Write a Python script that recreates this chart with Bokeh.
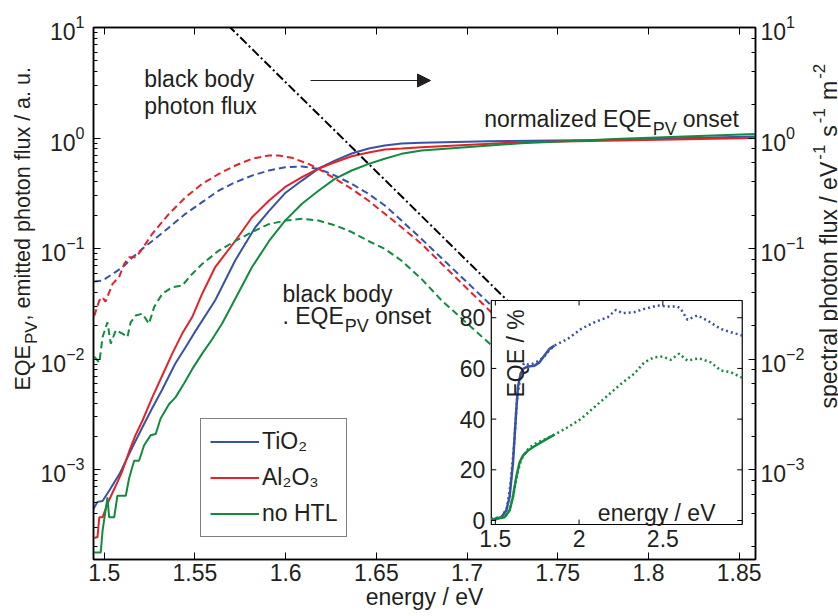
import math
from bokeh.plotting import figure
from bokeh.layouts import row
from bokeh.models import (Range1d, LinearAxis, LogAxis, FixedTicker, Label, Arrow,
                          NormalHead, LinearScale, Legend, LegendItem)
from bokeh.embed import file_html
from bokeh.resources import INLINE
from bokeh.core.properties import value

# ---------------- data ----------------
# normalized EQE_PV onset (solid)
TIO2_E = [1.4941, 1.4963, 1.4991, 1.5029, 1.5084, 1.5156, 1.5210, 1.5265, 1.5320, 1.5392,
          1.5446, 1.5502, 1.5612, 1.5722, 1.5832, 1.5909, 1.5996, 1.6090, 1.6183, 1.6271,
          1.6364, 1.6458, 1.6546, 1.6639, 1.6749, 1.7117, 1.7738, 1.8590]
TIO2_EQE = [4.4e-4, 5.1e-4, 5.2e-4, 6.5e-4, 9.1e-4, 1.6e-3, 2.4e-3, 3.6e-3, 5.3e-3, 9.1e-3,
            1.26e-2, 1.78e-2, 3.4e-2, 7.8e-2, 0.155, 0.219, 0.316, 0.412, 0.530, 0.625,
            0.724, 0.804, 0.855, 0.891, 0.905, 0.935, 0.96, 1.03]

AL2O3_E = [1.4945, 1.4963, 1.4973, 1.4991, 1.5018, 1.5046, 1.5073, 1.5101, 1.5137, 1.5172,
           1.5210, 1.5265, 1.5320, 1.5375, 1.5430, 1.5485, 1.5540, 1.5612, 1.5722, 1.5815,
           1.5909, 1.5996, 1.6090, 1.6183, 1.6271, 1.6364, 1.6458, 1.6546, 1.6639, 1.6749,
           1.7298, 1.8590]
AL2O3_EQE = [2.4e-4, 2.45e-4, 3.7e-4, 3.7e-4, 4.9e-4, 6.2e-4, 7.7e-4, 9.8e-4, 1.45e-3, 2.04e-3,
             2.75e-3, 4.5e-3, 7.1e-3, 1.12e-2, 1.7e-2, 2.4e-2, 3.9e-2, 6.8e-2, 0.117, 0.192,
             0.272, 0.359, 0.442, 0.530, 0.603, 0.684, 0.741, 0.787, 0.804, 0.826,
             0.916, 1.0]

NOHTL_E = [1.4945, 1.4981, 1.4991, 1.5018, 1.5027, 1.5055, 1.5073, 1.5119, 1.5137, 1.5165,
           1.5192, 1.5220, 1.5256, 1.5284, 1.5311, 1.5357, 1.5393, 1.5440, 1.5485, 1.5540,
           1.5595, 1.5650, 1.5705, 1.5815, 1.5909, 1.5996, 1.6090, 1.6183, 1.6271, 1.6364,
           1.6458, 1.6546, 1.6639, 1.6749, 1.7298, 1.7848, 1.8590]
NOHTL_EQE = [1.78e-4, 1.78e-4, 2.8e-4, 5.6e-4, 3.7e-4, 3.7e-4, 5.8e-4, 5.8e-4, 8.3e-4, 1.2e-3,
             1.2e-3, 1.66e-3, 2.04e-3, 2.1e-3, 2.9e-3, 3.9e-3, 4.5e-3, 6.0e-3, 8.1e-3, 1.12e-2,
             1.51e-2, 2.1e-2, 3.1e-2, 6.8e-2, 0.117, 0.178, 0.254, 0.335, 0.427, 0.508,
             0.583, 0.649, 0.719, 0.771, 0.897, 0.984, 1.09]

# black body x EQE_PV onset (dashed)
TIO2_EM_E = [1.4945, 1.4991, 1.5046, 1.5101, 1.5156, 1.5210, 1.5265, 1.5357, 1.5448, 1.5540,
             1.5632, 1.5723, 1.5815, 1.5907, 1.5998, 1.6090, 1.6181, 1.6273, 1.6364, 1.6456,
             1.6547, 1.6639, 1.6749, 1.7115, 1.7300]
TIO2_EM = [0.0502, 0.0513, 0.0589, 0.0676, 0.0832, 0.0993, 0.117, 0.155, 0.206, 0.263,
           0.335, 0.398, 0.457, 0.508, 0.545, 0.552, 0.526, 0.457, 0.385, 0.313,
           0.245, 0.179, 0.122, 0.0327, 0.0165]

AL2O3_EM_E = [1.4945, 1.4973, 1.4991, 1.5007, 1.5046, 1.5082, 1.5110, 1.5137, 1.5174, 1.5210,
              1.5265, 1.5357, 1.5448, 1.5540, 1.5632, 1.5723, 1.5815, 1.5907, 1.5962, 1.6035,
              1.6126, 1.6181, 1.6273, 1.6364, 1.6456, 1.6547, 1.6639, 1.6749, 1.7115, 1.7300]
AL2O3_EM = [0.0245, 0.0339, 0.0363, 0.033, 0.0479, 0.055, 0.0724, 0.0832, 0.0832, 0.0993,
            0.136, 0.206, 0.291, 0.385, 0.474, 0.564, 0.649, 0.695, 0.695, 0.662,
            0.583, 0.526, 0.427, 0.347, 0.272, 0.206, 0.156, 0.110, 0.0284, 0.0148]

NOHTL_EM_E = [1.4945, 1.4973, 1.4991, 1.5018, 1.5036, 1.5064, 1.5101, 1.5128, 1.5146, 1.5174,
              1.5210, 1.5247, 1.5275, 1.5320, 1.5375, 1.5430, 1.5485, 1.5540, 1.5632, 1.5723,
              1.5815, 1.5907, 1.5998, 1.6090, 1.6181, 1.6273, 1.6364, 1.6456, 1.6547, 1.6639,
              1.6749, 1.6859, 1.7124, 1.7300]
NOHTL_EM = [0.0105, 0.0093, 0.0158, 0.0215, 0.0138, 0.0182, 0.0170, 0.0158, 0.0215, 0.0248,
            0.0257, 0.0209, 0.0295, 0.0389, 0.0447, 0.0462, 0.0589, 0.0724, 0.0959, 0.117,
            0.141, 0.166, 0.179, 0.186, 0.179, 0.162, 0.141, 0.117, 0.0993, 0.0776,
            0.0531, 0.034, 0.0138, 0.0074]

# black body photon flux (dash-dot, right axis)
BB_E = [1.555, 1.600, 1.650, 1.700, 1.745]
BB_FLUX = [17.2, 3.20, 0.498, 0.0773, 0.0145]

# inset: EQE in %
IN_TIO2_SOLID_E = [1.476, 1.536, 1.565, 1.585, 1.605, 1.615, 1.625, 1.635, 1.651, 1.665,
                   1.695, 1.734, 1.764, 1.793, 1.823, 1.853]
IN_TIO2_SOLID = [0.3, 1.3, 3.9, 9.2, 22.4, 32.9, 43.4, 52.6, 57.9, 59.8,
                 60.8, 61.1, 62.4, 65.1, 67.7, 69.0]
IN_TIO2_DOT_E = [1.476, 1.54, 1.57, 1.59, 1.61, 1.63, 1.65, 1.67, 1.70, 1.73,
                 1.76, 1.79, 1.82, 1.853, 1.933, 2.012, 2.091, 2.171, 2.220, 2.260,
                 2.329, 2.389, 2.468, 2.528, 2.588, 2.607, 2.647, 2.707, 2.766, 2.845,
                 2.905, 2.974]
IN_TIO2_DOT = [0.5, 1.5, 5.0, 14.0, 28.0, 48.0, 57.0, 62.0, 61.5, 62.0,
               63.0, 64.5, 67.0, 69.0, 71.7, 75.6, 78.2, 80.2, 83.1, 81.8,
               82.2, 83.5, 84.8, 84.4, 84.4, 83.5, 79.2, 80.9, 78.9, 75.6,
               74.3, 73.0]
IN_NOHTL_SOLID_E = [1.476, 1.555, 1.585, 1.605, 1.625, 1.645, 1.665, 1.695, 1.734, 1.793, 1.853]
IN_NOHTL_SOLID = [0.3, 1.3, 3.9, 9.2, 17.1, 23.0, 25.6, 27.6, 29.3, 31.6, 33.9]
IN_NOHTL_DOT_E = [1.476, 1.56, 1.59, 1.61, 1.63, 1.65, 1.67, 1.70, 1.73, 1.76,
                  1.79, 1.82, 1.853, 1.933, 2.012, 2.091, 2.171, 2.25, 2.329, 2.389,
                  2.448, 2.498, 2.548, 2.597, 2.647, 2.716, 2.786, 2.845, 2.905, 2.974]
IN_NOHTL_DOT = [0.5, 1.5, 5.0, 11.0, 18.0, 23.0, 26.0, 28.5, 30.0, 31.0,
                31.8, 32.8, 33.9, 36.8, 40.1, 44.7, 49.3, 53.9, 57.9, 62.4,
                64.4, 64.7, 63.4, 65.8, 63.1, 64.0, 62.4, 59.2, 58.5, 56.3]

X_TICKS = [1.5, 1.55, 1.6, 1.65, 1.7, 1.75, 1.8, 1.85]
X_TICK_LABELS = ["1.5", "1.55", "1.6", "1.65", "1.7", "1.75", "1.8", "1.85"]
INSET_X_TICKS = [1.5, 2.0, 2.5]
INSET_X_LABELS = ["1.5", "2", "2.5"]
INSET_Y_TICKS = [0, 20, 40, 60, 80]
INSET_Y_LABELS = ["0", "20", "40", "60", "80"]
LEGEND_LABELS = ["TiO\u2082", "Al\u2082O\u2083", "no HTL"]

# ---------------- style / layout ----------------
FONT = "Liberation Sans"
TEXT = "#231f20"
BLUE, RED, GREEN = "#3753a6", "#e42229", "#138b3f"

TOTAL_W, TOTAL_H = 838, 616
LW, RW = 37, 31                      # side strips holding the rotated axis titles
MW = TOTAL_W - LW - RW               # main figure width
BL, BR, BT, BB = 54, 52, 27, 57
FX0 = LW + BL                        # page x of frame left  (91)
FX1 = LW + MW - BR                   # page x of frame right (755)
FT = BT                              # page y of frame top   (27)
FY0 = TOTAL_H - BB                   # page y of frame bottom (559)

X_START, X_END = 1.4941, 1.859
Y_START, Y_END = 1.535e-4, 10.0

p = figure(width=MW, height=TOTAL_H, y_axis_type="log",
           x_range=Range1d(X_START, X_END), y_range=Range1d(Y_START, Y_END),
           output_backend="svg", toolbar_location=None,
           min_border_left=BL, min_border_right=BR, min_border_top=BT, min_border_bottom=BB)
p.grid.visible = False
p.outline_line_color = "black"
p.outline_line_width = 1.5
p.background_fill_color = "white"
p.border_fill_color = "white"


def style_axis(ax, standoff=8, minor=True):
    ax.axis_line_color = "black"
    ax.axis_line_width = 1.5
    ax.major_tick_in = 7
    ax.major_tick_out = 0
    ax.minor_tick_in = 4
    ax.minor_tick_out = 0
    ax.major_tick_line_color = "black"
    ax.major_tick_line_width = 1
    ax.minor_tick_line_color = "black" if minor else None
    ax.major_label_text_font = FONT
    ax.major_label_text_font_size = "23px"
    ax.major_label_text_color = TEXT
    ax.major_label_standoff = standoff


xa = p.xaxis[0]
style_axis(xa, standoff=4, minor=False)
xa.ticker = FixedTicker(ticks=X_TICKS)
xa.major_label_overrides = {t: l for t, l in zip(X_TICKS, X_TICK_LABELS)}
xa.axis_label = "energy / eV"
xa.axis_label_text_font = FONT
xa.axis_label_text_font_size = "23px"
xa.axis_label_text_font_style = "normal"
xa.axis_label_text_color = TEXT
xa.axis_label_standoff = 0
style_axis(p.yaxis[0], standoff=9)

top = LinearAxis(ticker=FixedTicker(ticks=X_TICKS),
                 major_label_overrides={t: "" for t in X_TICKS})
style_axis(top, minor=False)
p.add_layout(top, "above")
right = LogAxis()
style_axis(right, standoff=5)
p.add_layout(right, "right")

# ---------------- main curves ----------------
r_tio2 = p.line(TIO2_E, TIO2_EQE, line_color=BLUE, line_width=2)
r_al = p.line(AL2O3_E, AL2O3_EQE, line_color=RED, line_width=2)
r_no = p.line(NOHTL_E, NOHTL_EQE, line_color=GREEN, line_width=2)
p.line(TIO2_EM_E, TIO2_EM, line_color=BLUE, line_width=2, line_dash="7 4")
p.line(AL2O3_EM_E, AL2O3_EM, line_color=RED, line_width=2, line_dash="7 4")
p.line(NOHTL_EM_E, NOHTL_EM, line_color=GREEN, line_width=2, line_dash="7 4")
p.line(BB_E, BB_FLUX, line_color="black", line_width=2, line_dash="9 3 2 3")

# ---------------- inset ----------------
IL, IR, IT, IB = 490, 741.7, 300, 524       # page box of inset
IX0, IX1 = 1.476, 2.974
IY0, IY1 = -1.58, 86.8
ux = (IX1 - IX0) / (IR - IL)
uy = (IY1 - IY0) / (IB - IT)
p.extra_x_ranges = {"ix": Range1d(IX0 - (IL - FX0) * ux, IX1 + (FX1 - IR) * ux)}
p.extra_y_ranges = {"iy": Range1d(IY0 - (FY0 - IB) * uy, IY1 + (IT - FT) * uy)}
p.extra_x_scales = {"ix": LinearScale()}
p.extra_y_scales = {"iy": LinearScale()}
IK = dict(x_range_name="ix", y_range_name="iy")

p.quad(left=[IX0], right=[IX1], bottom=[IY0], top=[IY1], fill_color="white",
       line_color="black", line_width=1.2, **IK)
p.line(IN_TIO2_DOT_E, IN_TIO2_DOT, line_color=BLUE, line_width=2.5, line_dash="2 3", **IK)
p.line(IN_NOHTL_DOT_E, IN_NOHTL_DOT, line_color=GREEN, line_width=2.5, line_dash="2 3", **IK)
p.line(IN_TIO2_SOLID_E, IN_TIO2_SOLID, line_color=BLUE, line_width=2.5, **IK)
p.line(IN_NOHTL_SOLID_E, IN_NOHTL_SOLID, line_color=GREEN, line_width=2.5, **IK)

tl = 5
ny, nx = len(INSET_Y_TICKS), len(INSET_X_TICKS)
p.segment(x0=[IX0] * ny, x1=[IX0 + tl * ux] * ny, y0=INSET_Y_TICKS, y1=INSET_Y_TICKS,
          line_color="black", line_width=1, **IK)
p.segment(x0=[IX1] * ny, x1=[IX1 - tl * ux] * ny, y0=INSET_Y_TICKS, y1=INSET_Y_TICKS,
          line_color="black", line_width=1, **IK)
p.segment(x0=INSET_X_TICKS, x1=INSET_X_TICKS, y0=[IY0] * nx, y1=[IY0 + tl * uy] * nx,
          line_color="black", line_width=1, **IK)
p.segment(x0=INSET_X_TICKS, x1=INSET_X_TICKS, y0=[IY1] * nx, y1=[IY1 - tl * uy] * nx,
          line_color="black", line_width=1, **IK)
p.text(x=[IX0 - 6 * ux] * ny, y=INSET_Y_TICKS, text=INSET_Y_LABELS,
       text_font=value(FONT), text_font_size=value("23px"), text_color=TEXT,
       text_align="right", text_baseline="middle", **IK)
p.text(x=INSET_X_TICKS, y=[IY0 - 5 * uy] * nx, text=INSET_X_LABELS,
       text_font=value(FONT), text_font_size=value("23px"), text_color=TEXT,
       text_align="center", text_baseline="top", **IK)

# ---------------- legend ----------------
legend = Legend(items=[LegendItem(label=LEGEND_LABELS[0], renderers=[r_tio2]),
                       LegendItem(label=LEGEND_LABELS[1], renderers=[r_al]),
                       LegendItem(label=LEGEND_LABELS[2], renderers=[r_no])],
                location=(198 - FX0, FY0 - 537), label_text_font=FONT,
                label_text_font_size="23px", label_text_color=TEXT,
                glyph_width=49, glyph_height=25, label_height=25,
                label_standoff=3, spacing=9, padding=9, margin=0,
                border_line_color="black", border_line_width=1,
                background_fill_color="white", background_fill_alpha=1.0)
p.add_layout(legend)

# ---------------- text annotations ----------------
CW = {' ': 278, ',': 278, '.': 278, '/': 278, '%': 889, '-': 333,
      'a': 556, 'b': 556, 'c': 500, 'd': 556, 'e': 556, 'f': 278, 'g': 556, 'h': 556,
      'i': 222, 'k': 500, 'l': 222, 'm': 833, 'n': 556, 'o': 556, 'p': 556, 'r': 333,
      's': 500, 't': 278, 'u': 556, 'x': 500, 'y': 500, 'z': 500,
      'E': 667, 'Q': 778, 'P': 667, 'V': 667}


def tw(s, size):
    return sum(CW.get(c, 556) for c in s) / 1000.0 * size


def put(fig, ox, oy, parts, px, py, angle=0.0, align="left"):
    """parts: (text, size, shift_down, gap_before); px, py: page coords of baseline start;
    ox, oy: page coords of the figure frame's bottom-left corner"""
    fx, fy = px - ox, oy - py
    pos = 0.0
    for text, size, shift, gap in parts:
        pos += gap
        if angle == 0.0:
            x, y = fx + pos, fy - shift
        else:
            x, y = fx + shift, fy + pos
        fig.add_layout(Label(x=x, y=y, x_units="screen", y_units="screen", text=text,
                             text_font=FONT, text_font_size=f"{size}px", text_color=TEXT,
                             angle=angle, text_baseline="alphabetic", text_align=align))
        pos += tw(text, size)


def strip(width):
    f = figure(width=width, height=TOTAL_H, x_range=Range1d(0, 1), y_range=Range1d(0, 1),
               output_backend="svg", toolbar_location=None,
               x_axis_location=None, y_axis_location=None,
               min_border=0, min_border_left=0, min_border_right=0,
               min_border_top=0, min_border_bottom=0)
    f.grid.visible = False
    f.outline_line_color = None
    f.background_fill_color = "white"
    f.border_fill_color = "white"
    return f


left_strip = strip(LW)
right_strip = strip(RW)

M = (p, FX0, FY0)
put(*M, [("black body", 23, 0, 0)], 141.7, 78)
put(*M, [("photon flux", 23, 0, 0)], 141.7, 105)
put(*M, [("normalized EQE", 23, 0, 0), ("PV", 18, 10, 1), ("onset", 23, 0, 6)], 481.7, 118)
put(*M, [("black body", 23, 0, 0)], 280, 293)
put(*M, [(". EQE", 23, 0, 0), ("PV", 18, 10, 1), ("onset", 23, 0, 6)], 280, 315)
put(*M, [("EQE / %", 23, 0, 0)], 513, 397, angle=math.pi / 2)
put(*M, [("energy / eV", 23, 0, 0)], 713, 512, align="right")

# rotated axis titles in the side strips
put(left_strip, 0, TOTAL_H,
    [("EQE", 21.5, 0, 0), ("PV", 17, 9, 1), (", emitted photon flux / a. u.", 21.5, 0, 1)],
    22, 447, angle=math.pi / 2)
put(right_strip, LW + MW, TOTAL_H,
    [("spectral photon flux / eV", 23, 0, 0), ("-1", 17, -10, 2), ("s", 23, 0, 8),
     ("-1", 17, -10, 2), ("m", 23, 0, 8), ("-2", 17, -10, 2)],
    828, 465, angle=math.pi / 2)

p.add_layout(Arrow(end=NormalHead(size=13, fill_color=TEXT, line_color=TEXT, line_width=1),
                   x_start=308 - FX0, y_start=FY0 - 80, x_end=428 - FX0, y_end=FY0 - 80,
                   start_units="screen", end_units="screen",
                   line_color=TEXT, line_width=1.2))

layout = row(left_strip, p, right_strip, spacing=0)
open("out.html", "w").write(file_html(layout, INLINE))
